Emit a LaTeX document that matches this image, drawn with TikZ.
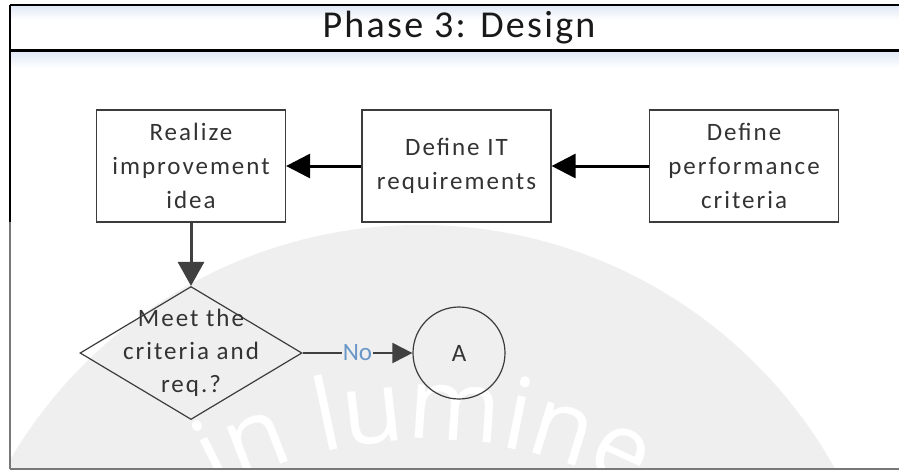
\documentclass[tikz,border=0pt]{standalone}
\usepackage{fontspec}
\setmainfont{Carlito}
\newfontfamily\wmfont{Open Sans}
\usetikzlibrary{arrows.meta,shapes.geometric,decorations.text}
\definecolor{wmgrey}{RGB}{239,239,239}
\definecolor{boxline}{RGB}{60,60,60}
\definecolor{txt}{RGB}{51,51,51}
\definecolor{nolab}{RGB}{105,150,200}
\definecolor{haze}{RGB}{226,234,246}
\definecolor{framegrey}{RGB}{120,120,120}
\definecolor{darkarrow}{RGB}{64,64,64}
\begin{document}
\begin{tikzpicture}[x=1pt,y=-1pt,
  stepbox/.style={draw=boxline,line width=1.2pt,fill=white,minimum width=189pt,minimum height=112pt,
    align=center,text=txt,font=\fontsize{25}{34}\selectfont\addfontfeatures{LetterSpace=8},inner sep=0pt},
  decision/.style={diamond,draw=boxline,line width=1.2pt,minimum width=222pt,minimum height=133pt,inner sep=0pt},
  dtext/.style={align=center,text=txt,font=\fontsize{25}{33}\selectfont\addfontfeatures{LetterSpace=8},inner sep=0pt},
  connector/.style={circle,draw=boxline,line width=1.2pt,minimum size=92pt,inner sep=0pt,text=txt,font=\fontsize{25}{30}\selectfont},
  harrow/.style={line width=3pt,black,-{Triangle[length=24pt,width=24pt]}},
  varrow/.style={line width=3pt,darkarrow,-{Triangle[length=24pt,width=26pt]}},
  narrow/.style={line width=2pt,darkarrow,-{Triangle[length=20pt,width=20pt]}},
  nolabel/.style={text=nolab,font=\fontsize{25}{30}\selectfont,fill=wmgrey,inner sep=1pt},
  titletext/.style={text=black!90,font=\fontsize{38}{42}\selectfont\addfontfeatures{LetterSpace=6}}
]
\useasboundingbox (0,0) rectangle (899,472);
\fill[white] (0,0) rectangle (899,472);
% watermark
\begin{scope}
  \clip (11,51) rectangle (899,468);
  \fill[wmgrey] (420,700) circle[radius=475];
  \path[decorate,decoration={text along path,text align=center,
    text={|\wmfont\fontsize{100}{100}\selectfont\color{white}|in lumine}}]
    (425,880) ++(-140:440) arc[start angle=-140,end angle=-40,radius=440];
\end{scope}
% header haze
\shade[top color=haze,bottom color=white] (11,6) rectangle (899,20);
\shade[top color=haze,bottom color=white] (11,52) rectangle (899,68);
% frame
\coordinate (tl) at (10,5);
\coordinate (tr) at (899,5);
\coordinate (ml) at (10,50);
\coordinate (mr) at (899,50);
\coordinate (lm) at (10,222);
\coordinate (bl) at (10,469);
\coordinate (br) at (899,469);
\draw[line width=2pt,black] (tl) -- (tr);
\draw[line width=3pt,black] (ml) -- (mr);
\draw[line width=2.5pt,black] (tl) -- (lm);
\draw[line width=2.5pt,framegrey] (lm) -- (bl);
\draw[line width=2.5pt,framegrey] (bl) -- (br);
\node[titletext] (title) at (459,28) {Phase 3: Design};
% nodes
\node[stepbox] (b1) at (191,166) {Realize\\improvement\\idea};
\node[stepbox] (b2) at (456.5,166) {Define IT\\requirements};
\node[stepbox] (b3) at (744,166) {Define\\performance\\criteria};
\node[decision] (d) at (191,353) {};
\node[dtext] (dt) at (d.center) {Meet the\\criteria and\\req.?};
\node[connector] (A) at (459,353) {A};
% connectors
\draw[harrow] (b3.west) -- (b2.east);
\draw[harrow] (b2.west) -- (b1.east);
\draw[varrow] (b1.south) -- (d.north);
\draw[narrow] (d.east) -- node[nolabel] {No} (A.west);
\end{tikzpicture}
\end{document}
